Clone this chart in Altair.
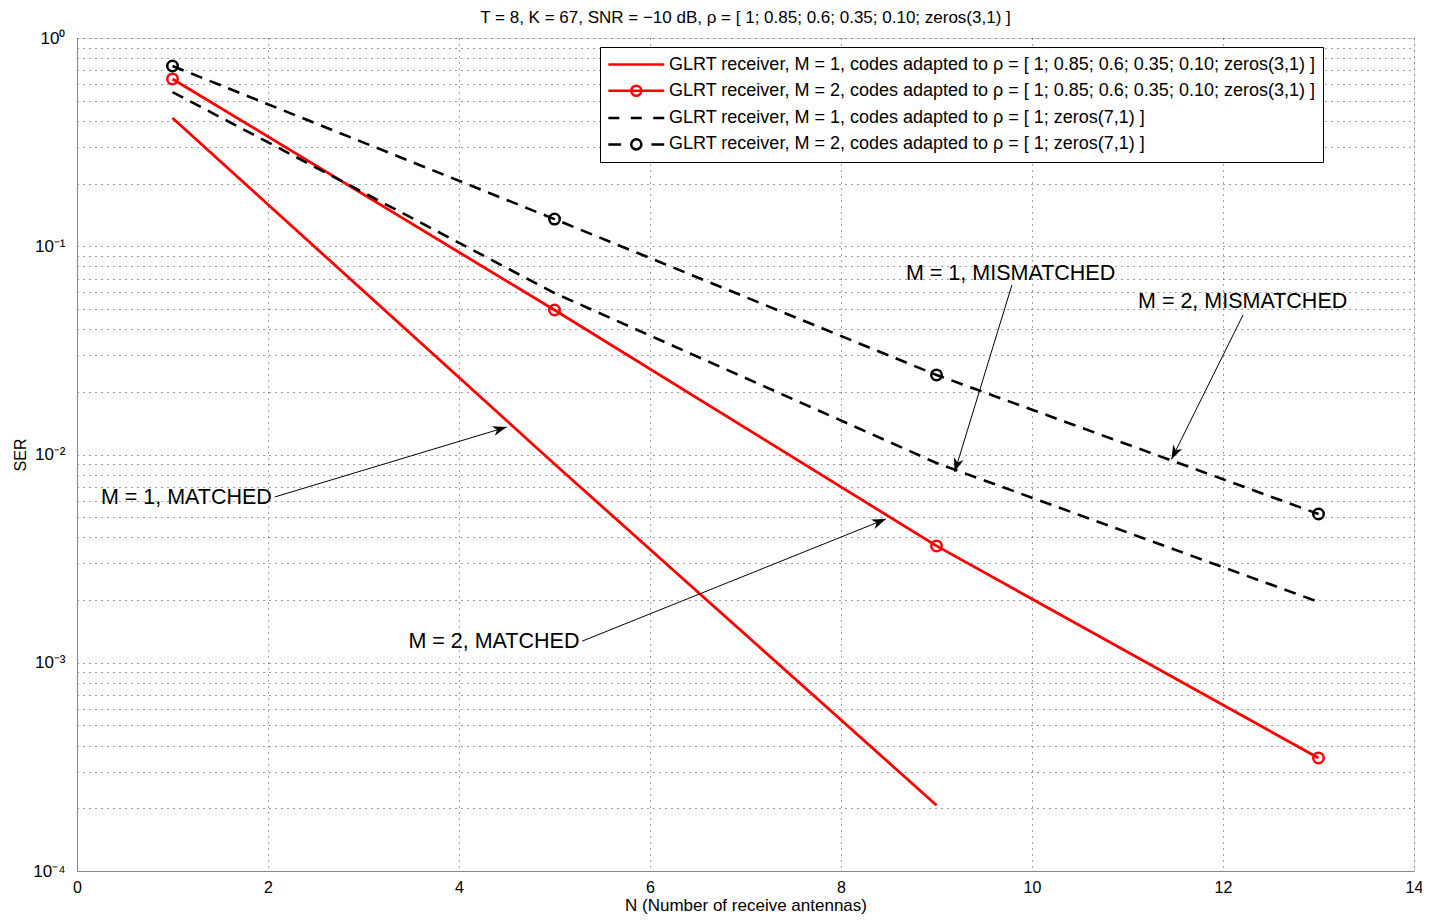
import math
import altair as alt
import pandas as pd

FONT = "Liberation Sans"

# ---------------- data ----------------
series_names = [
    "GLRT receiver, M = 1, codes adapted to ρ = [ 1; 0.85; 0.6; 0.35; 0.10; zeros(3,1) ]",
    "GLRT receiver, M = 2, codes adapted to ρ = [ 1; 0.85; 0.6; 0.35; 0.10; zeros(3,1) ]",
    "GLRT receiver, M = 1, codes adapted to ρ = [ 1; zeros(7,1) ]",
    "GLRT receiver, M = 2, codes adapted to ρ = [ 1; zeros(7,1) ]",
]
n_m1_matched = [1, 5, 9]
ser_m1_matched = [0.413, 9.0e-3, 2.07e-4]
n_m2_matched = [1, 5, 9, 13]
ser_m2_matched = [0.636, 0.0494, 3.64e-3, 3.49e-4]
n_m1_mismatched = [1, 5, 9, 13]
ser_m1_mismatched = [0.55, 0.0596, 0.0091, 1.96e-3]
n_m2_mismatched = [1, 5, 9, 13]
ser_m2_mismatched = [0.734, 0.135, 0.0241, 5.18e-3]

# annotations: label, label position, arrow start, arrow tip
ann_text = ["M = 1, MATCHED", "M = 2, MATCHED", "M = 1, MISMATCHED", "M = 2, MISMATCHED"]
ann_text_x = [0.25, 3.47, 8.68, 11.11]
ann_text_y = [6.18e-3, 1.26e-3, 0.0736, 0.054]
arrow_x0 = [2.07, 5.29, 9.79, 12.21]
arrow_y0 = [6.25e-3, 1.27e-3, 0.0652, 0.0468]
arrow_x1 = [4.50, 8.47, 9.19, 11.46]
arrow_y1 = [0.01355, 4.9e-3, 8.24e-3, 9.48e-3]

title_text = "T = 8, K = 67, SNR = \u221210 dB, ρ = [ 1; 0.85; 0.6; 0.35; 0.10; zeros(3,1) ]"

# ---------------- layout ----------------
W, H = 1337, 833
X_DOMAIN = [0, 14]
Y_DOMAIN = [1e-4, 1]

rows = []
for name, ns, vs in zip(series_names,
                        [n_m1_matched, n_m2_matched, n_m1_mismatched, n_m2_mismatched],
                        [ser_m1_matched, ser_m2_matched, ser_m1_mismatched, ser_m2_mismatched]):
    for n, v in zip(ns, vs):
        rows.append({"N": n, "SER": v, "series": name})
df = pd.DataFrame(rows)

ann = pd.DataFrame({"text": ann_text, "x": ann_text_x, "y": ann_text_y,
                    "x0": arrow_x0, "y0": arrow_y0, "x1": arrow_x1, "y1": arrow_y1})


def head_angle(r):
    dx = (r.x1 - r.x0) * W / (X_DOMAIN[1] - X_DOMAIN[0])
    dy = -(math.log10(r.y1) - math.log10(r.y0)) * H / 4.0
    return math.degrees(math.atan2(dx, -dy)) % 360


ann["angle"] = ann.apply(head_angle, axis=1)

x_scale = alt.Scale(domain=X_DOMAIN, nice=False, zero=False)
y_scale = alt.Scale(type="log", domain=Y_DOMAIN, nice=False)

y_vals = [1.0]
for k in range(-4, 0):
    for m in range(1, 10):
        y_vals.append(round(m * 10 ** k, 10))

label_expr = (
    "abs(log(datum.value)/LN10 - round(log(datum.value)/LN10)) < 1e-6 ? "
    "(round(log(datum.value)/LN10) == 0 ? '10\u2070' : "
    "round(log(datum.value)/LN10) == -1 ? '10\u207b\u00b9' : "
    "round(log(datum.value)/LN10) == -2 ? '10\u207b\u00b2' : "
    "round(log(datum.value)/LN10) == -3 ? '10\u207b\u00b3' : '10\u207b\u2074') : ''"
)

grid_kw = dict(grid=True, gridColor="#000000", gridOpacity=0.75, gridDash=[1, 5], gridWidth=1)

x_enc = alt.X("N:Q", scale=x_scale,
              axis=alt.Axis(values=list(range(0, 15, 2)), format="d", labelFlush=False,
                            title="N (Number of receive antennas)",
                            ticks=False, labelPadding=8, titlePadding=2,
                            labelFontSize=16, titleFontSize=17, titleFontWeight="normal",
                            **grid_kw))
y_enc = alt.Y("SER:Q", scale=y_scale,
              axis=alt.Axis(values=y_vals, labelExpr=label_expr, title="SER", labelFlush=False,
                            ticks=False, labelPadding=12, titlePadding=4,
                            labelFontSize=17, titleFontSize=16, titleFontWeight="normal",
                            **grid_kw))

base = alt.Chart(df)

red_lines = base.transform_filter(
    alt.FieldOneOfPredicate(field="series", oneOf=series_names[:2])
).mark_line(color="#ff0000", strokeWidth=2.8).encode(x=x_enc, y=y_enc, detail="series:N")

black_lines = base.transform_filter(
    alt.FieldOneOfPredicate(field="series", oneOf=series_names[2:])
).mark_line(color="#000000", strokeWidth=2.6, strokeDash=[12, 8]).encode(
    x="N:Q", y="SER:Q", detail="series:N")

red_pts = base.transform_filter(alt.datum.series == series_names[1]).mark_point(
    shape="circle", filled=False, color="#ff0000", size=110, strokeWidth=2.5, opacity=1
).encode(x="N:Q", y="SER:Q")

black_pts = base.transform_filter(alt.datum.series == series_names[3]).mark_point(
    shape="circle", filled=False, color="#000000", size=110, strokeWidth=2.5, opacity=1
).encode(x="N:Q", y="SER:Q")

# legend symbols: line (+ marker) drawn as custom paths
circ = "M2.6,0A0.55,0.55 0 1,1 1.5,0A0.55,0.55 0 1,1 2.6,0"
legend_shapes = [
    "M-1,0L5.1,0",
    "M-1,0L5.1,0" + circ,
    "M-1,0L0.2,0M1.45,0L2.65,0M3.9,0L5.1,0",
    "M-1,0L0.4,0M3.7,0L5.1,0" + circ,
]
legend_layer = base.mark_point(opacity=0, filled=False).encode(
    x="N:Q", y="SER:Q",
    color=alt.Color("series:N", scale=alt.Scale(domain=series_names,
                                                  range=["#ff0000", "#ff0000", "#000000", "#000000"]),
                    legend=alt.Legend(title=None, orient="none", legendX=523, legendY=9,
                                      symbolSize=336, symbolStrokeWidth=2.5, labelOffset=41,
                                      labelFontSize=18, labelFont=FONT, rowPadding=6.3,
                                      padding=7, strokeColor="#000000", fillColor="#ffffff",
                                      labelLimit=900, symbolOpacity=1)),
    shape=alt.Shape("series:N", scale=alt.Scale(domain=series_names, range=legend_shapes)),
)

arrows = alt.Chart(ann).mark_rule(color="#000000", strokeWidth=1).encode(
    x="x0:Q", y="y0:Q", x2="x1:Q", y2="y1:Q")
heads = alt.Chart(ann).mark_point(
    shape="M0,0L0.5,1.4L0,1.0L-0.5,1.4Z", filled=True, color="#000000", size=400, opacity=1
).encode(x="x1:Q", y="y1:Q", angle=alt.Angle("angle:Q", scale=None))
labels = alt.Chart(ann).mark_text(align="left", baseline="middle", fontSize=21.5,
                                  font=FONT, color="#000000").encode(
    x="x:Q", y="y:Q", text="text:N")

chart = alt.layer(
    red_lines, black_lines, red_pts, black_pts, legend_layer, arrows, heads, labels
).properties(
    width=W, height=H,
    title=alt.TitleParams(title_text, fontSize=17, font=FONT, fontWeight="normal",
                          anchor="middle", offset=2, color="#000000"),
    autosize=alt.AutoSizeParams(type="none"),
    padding={"left": 69, "top": 30, "right": 8, "bottom": 44},
).configure_axis(
    labelFont=FONT, titleFont=FONT, labelColor="#000000", titleColor="#000000",
    domainColor="#000000", domainWidth=1,
).configure_view(
    stroke="#000000", strokeWidth=1.2
).configure(background="#ffffff")

chart.save("out.html", embed_options={"renderer": "svg", "actions": False})
